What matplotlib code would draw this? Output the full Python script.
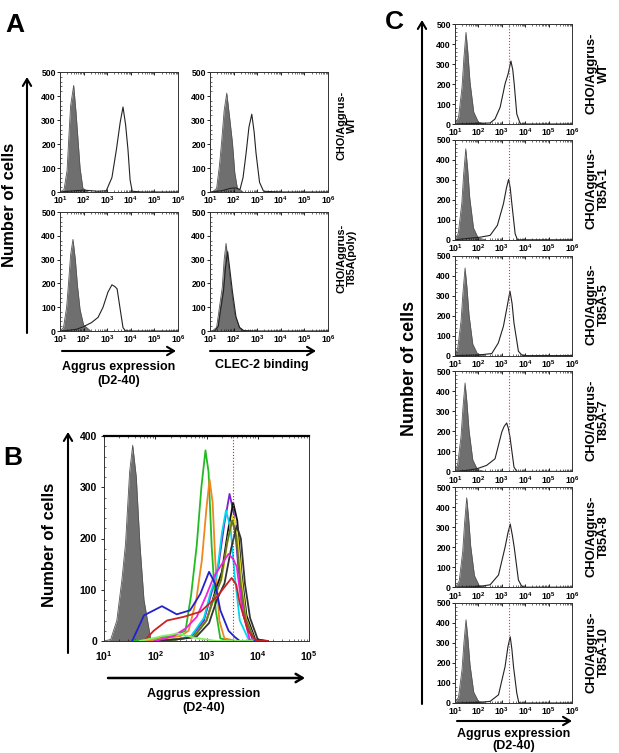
import numpy as np
import matplotlib
matplotlib.use('Agg')
from matplotlib import pyplot as plt
from matplotlib.ticker import MultipleLocator, LogLocator, NullFormatter

plt.rcParams['font.family'] = ['Liberation Sans', 'DejaVu Sans']
plt.rcParams['font.weight'] = 'bold'
plt.rcParams['mathtext.fontset'] = 'custom'
plt.rcParams['mathtext.bf'] = 'Liberation Sans:bold'
plt.rcParams['mathtext.rm'] = 'Liberation Sans:bold'

W, H = 619, 753

# ---------------- data (x as log10 fluorescence, y as counts) ----------------
# Panel A: rows = WT, T85A(poly); cols = Aggrus (D2-40), CLEC-2 binding
a_gray_x = [
    [1.0, 1.17, 1.3, 1.37, 1.45, 1.58, 1.68, 1.76, 1.85, 1.97, 2.2],
    [1.1, 1.28, 1.4, 1.49, 1.6, 1.71, 1.82, 1.95, 2.05, 2.16, 2.4],
    [1.0, 1.15, 1.28, 1.36, 1.45, 1.55, 1.65, 1.74, 1.85, 2.0, 2.3],
    [1.1, 1.28, 1.4, 1.52, 1.6, 1.68, 1.78, 1.89, 2.05, 2.25, 2.47],
]
a_gray_y = [
    [0, 10, 90, 222, 360, 444, 330, 222, 100, 15, 0],
    [0, 15, 110, 206, 340, 412, 320, 206, 80, 15, 0],
    [0, 15, 100, 200, 320, 385, 300, 190, 90, 25, 0],
    [0, 15, 100, 184, 300, 368, 280, 184, 70, 15, 0],
]
a_open_x = [
    [1.0, 1.6, 2.0, 2.6, 2.96, 3.2, 3.39, 3.55, 3.67, 3.78, 3.88, 3.97, 4.06, 4.5, 6.0],
    [1.0, 1.5, 1.85, 2.1, 2.27, 2.4, 2.53, 2.65, 2.77, 2.87, 2.95, 3.1, 3.27, 4.0, 6.0],
    [1.0, 1.3, 1.69, 1.97, 2.33, 2.61, 2.82, 3.03, 3.2, 3.32, 3.42, 3.56, 3.67, 3.78, 6.0],
    [1.0, 1.2, 1.35, 1.45, 1.57, 1.66, 1.75, 1.85, 1.95, 2.1, 2.25, 2.41, 3.0, 4.0, 6.0],
]
a_open_y = [
    [0, 5, 8, 3, 5, 60, 177, 290, 354, 280, 177, 50, 3, 0, 0],
    [0, 5, 15, 17, 10, 60, 162, 270, 324, 250, 162, 40, 3, 0, 0],
    [0, 2, 7, 17, 35, 57, 99, 163, 194, 187, 177, 85, 14, 0, 0],
    [0, 0, 20, 90, 166, 270, 333, 250, 166, 60, 15, 2, 0, 0, 0],
]
a_labels = ['CHO/Aggrus-\nWT', 'CHO/Aggrus-\nT85A(poly)']
a_xlabels = ['Aggrus expression\n(D2-40)', 'CLEC-2 binding']

# Panel B: overlay of clones
b_gray_x = [1.0, 1.13, 1.25, 1.35, 1.42, 1.5, 1.56, 1.63, 1.7, 1.78, 1.91, 2.0]
b_gray_y = [0, 3, 40, 120, 190, 330, 382, 320, 190, 80, 5, 0]
b_colors = ['#22bb22', '#ee8820', '#7a22cc', '#111111', '#00d8ee', '#e8e020',
            '#667722', '#333333', '#ee22dd', '#2222cc', '#cc2222', '#88ee66']
b_lines_x = [
    [1.6, 2.0, 2.4, 2.59, 2.7, 2.81, 2.9, 2.98, 3.04, 3.1, 3.18, 3.27, 3.5],
    [1.8, 2.2, 2.5, 2.65, 2.8, 2.91, 3.0, 3.06, 3.12, 3.17, 3.25, 3.35, 3.6],
    [2.0, 2.4, 2.7, 2.95, 3.1, 3.23, 3.35, 3.45, 3.53, 3.62, 3.72, 3.9, 4.1],
    [2.0, 2.4, 2.75, 3.0, 3.15, 3.3, 3.42, 3.52, 3.6, 3.68, 3.78, 3.95, 4.15],
    [2.0, 2.4, 2.7, 2.95, 3.08, 3.2, 3.3, 3.38, 3.47, 3.55, 3.65, 3.82, 4.0],
    [2.0, 2.4, 2.75, 3.0, 3.15, 3.3, 3.42, 3.52, 3.6, 3.68, 3.77, 3.93, 4.1],
    [2.0, 2.4, 2.75, 3.0, 3.15, 3.28, 3.4, 3.5, 3.58, 3.66, 3.76, 3.93, 4.1],
    [2.0, 2.4, 2.8, 3.05, 3.2, 3.35, 3.48, 3.59, 3.67, 3.75, 3.85, 4.0, 4.2],
    [2.0, 2.36, 2.6, 2.81, 3.0, 3.14, 3.3, 3.43, 3.52, 3.59, 3.7, 3.85, 4.0],
    [1.55, 1.78, 2.13, 2.42, 2.68, 2.88, 3.05, 3.17, 3.27, 3.43, 3.55, 3.65, 4.0],
    [1.78, 1.97, 2.23, 2.55, 2.88, 3.2, 3.35, 3.49, 3.58, 3.65, 3.81, 3.98, 4.2],
    [1.7, 1.95, 2.15, 2.3, 2.42, 2.55, 2.7, 2.85, 3.0, 3.2, 3.4, 3.6, 3.9],
]
b_lines_y = [
    [0, 5, 12, 20, 90, 187, 300, 372, 330, 187, 60, 5, 0],
    [0, 5, 10, 20, 80, 158, 260, 315, 270, 158, 40, 5, 0],
    [0, 3, 8, 40, 95, 145, 230, 287, 250, 145, 50, 3, 0],
    [0, 3, 8, 40, 90, 135, 215, 270, 235, 135, 50, 3, 0],
    [0, 3, 10, 45, 95, 128, 210, 255, 220, 128, 40, 3, 0],
    [0, 3, 8, 40, 85, 122, 200, 245, 210, 122, 45, 3, 0],
    [0, 3, 8, 40, 85, 118, 190, 235, 205, 118, 45, 3, 0],
    [0, 3, 8, 35, 80, 112, 180, 225, 200, 112, 45, 3, 0],
    [0, 10, 25, 47, 90, 125, 150, 170, 160, 145, 60, 0, 0],
    [0, 50, 68, 52, 60, 92, 135, 112, 60, 20, 8, 0, 0],
    [0, 20, 40, 47, 57, 86, 105, 123, 110, 73, 20, 0, 0],
    [0, 5, 10, 12, 15, 12, 8, 5, 3, 0, 0, 0, 0],
]
b_cutoff = 3.52

# Panel C: six clones, same layout
c_labels = ['CHO/Aggrus-\nWT', 'CHO/Aggrus-\nT85A-1', 'CHO/Aggrus-\nT85A-5',
            'CHO/Aggrus-\nT85A-7', 'CHO/Aggrus-\nT85A-8', 'CHO/Aggrus-\nT85A-10']
c_gray_peak = [(1.47, 458), (1.46, 455), (1.43, 438), (1.43, 442), (1.5, 447), (1.47, 416)]
c_gray_x = [-0.47, -0.32, -0.17, -0.09, 0.0, 0.08, 0.17, 0.33, 0.53, 0.83]
c_gray_frac = [0.0, 0.07, 0.4, 0.72, 1.0, 0.78, 0.46, 0.13, 0.02, 0.0]
c_open_x = [
    [1.0, 2.0, 2.5, 2.71, 2.93, 3.14, 3.27, 3.39, 3.47, 3.53, 3.64, 3.79, 6.0],
    [1.0, 1.64, 2.07, 2.5, 2.81, 3.07, 3.2, 3.29, 3.36, 3.43, 3.57, 3.67, 6.0],
    [1.0, 2.0, 2.57, 2.85, 3.07, 3.22, 3.35, 3.44, 3.52, 3.71, 3.85, 4.0, 6.0],
    [1.0, 1.5, 1.93, 2.35, 2.71, 3.0, 3.1, 3.21, 3.28, 3.35, 3.52, 3.64, 6.0],
    [1.0, 2.0, 2.5, 2.86, 3.14, 3.26, 3.36, 3.45, 3.53, 3.71, 3.85, 3.93, 6.0],
    [1.0, 2.0, 2.5, 2.86, 3.14, 3.26, 3.36, 3.43, 3.5, 3.64, 3.72, 3.79, 6.0],
]
c_open_y = [
    [0, 3, 5, 25, 84, 201, 250, 315, 270, 201, 50, 0, 0],
    [0, 8, 13, 22, 72, 180, 260, 302, 260, 180, 30, 0, 0],
    [0, 3, 10, 63, 147, 240, 322, 260, 163, 22, 3, 0, 0],
    [0, 5, 13, 30, 63, 197, 225, 242, 215, 172, 22, 0, 0],
    [0, 3, 12, 61, 200, 270, 316, 260, 200, 36, 5, 0, 0],
    [0, 3, 8, 41, 182, 280, 331, 270, 182, 50, 5, 0, 0],
]
c_cutoff = 3.31

tick_exp6 = [1, 2, 3, 4, 5, 6]
tick_exp5 = [1, 2, 3, 4, 5]

GRAY = '#6f6f6f'

fig = plt.figure(figsize=(W / 100, H / 100), dpi=100)


def px_axes(l, t, r, b):
    return fig.add_axes([l / W, 1 - b / H, (r - l) / W, (b - t) / H])


def arrow(x0, y0, x1, y1, lw=1.5):
    fig.add_artist(matplotlib.patches.FancyArrowPatch(
        (x0 / W, 1 - y0 / H), (x1 / W, 1 - y1 / H), transform=fig.transFigure,
        arrowstyle='->,head_length=5,head_width=3', lw=lw, color='black',
        shrinkA=0, shrinkB=0))


def style_hist(ax, exps, ymax, ystep, fs=6.2, xpad=2):
    ax.set_xscale('log')
    ax.set_xlim(10 ** exps[0], 10 ** exps[-1])
    ax.set_ylim(0, ymax)
    ax.set_xticks([10 ** k for k in exps])
    ax.set_xticklabels([r'$\mathbf{10^{%d}}$' % k for k in exps], fontsize=fs)
    ax.xaxis.set_minor_locator(LogLocator(base=10, subs=np.arange(2, 10), numticks=20))
    ax.xaxis.set_minor_formatter(NullFormatter())
    ax.yaxis.set_major_locator(MultipleLocator(ystep))
    ax.yaxis.set_minor_locator(MultipleLocator(ystep / 5))
    ax.tick_params(axis='both', which='major', labelsize=fs, length=2, width=0.6, pad=1)
    ax.tick_params(axis='both', which='minor', length=1.5, width=0.4, direction='in')
    ax.tick_params(axis='x', which='both', top=True, direction='in')
    ax.tick_params(axis='x', which='major', pad=xpad)
    for lab in ax.get_yticklabels():
        lab.set_fontweight('bold')
    for s in ax.spines.values():
        s.set_linewidth(0.7)
        s.set_color('#333333')


def gray_fill(ax, lx, y):
    x = np.power(10.0, lx)
    ax.fill_between(x, 0, y, color=GRAY, lw=0)
    ax.plot(x, y, color='#555555', lw=0.6)


# ---------------- panel A ----------------
fig.text(5 / W, 1 - 25 / H, 'A', fontsize=19, fontweight='bold', va='center')
a_boxes = [(60, 72, 178, 192), (210, 72, 328, 192), (60, 212, 178, 331), (210, 212, 328, 331)]
for i, (l, t, r, b) in enumerate(a_boxes):
    ax = px_axes(l, t, r, b)
    gray_fill(ax, a_gray_x[i], a_gray_y[i])
    ax.plot(np.power(10.0, a_open_x[i]), a_open_y[i], color='#222222', lw=0.8)
    style_hist(ax, tick_exp6, 500, 100)
for j, lab in enumerate(a_labels):
    fig.text(347 / W, 1 - (125 + 133 * j) / H, lab, rotation=90, ha='center',
             va='center', fontsize=7.8, fontweight='bold', linespacing=1.05)
arrow(27, 333, 27, 77)
fig.text(10 / W, 1 - 205 / H, 'Number of cells', rotation=90, ha='center',
         va='center', fontsize=12, fontweight='bold')
arrow(62, 351, 176, 351)
arrow(210, 351, 316, 351)
fig.text(119 / W, 1 - 374 / H, a_xlabels[0], ha='center', va='center',
         fontsize=9, fontweight='bold', linespacing=1.25)
fig.text(262 / W, 1 - 365 / H, a_xlabels[1], ha='center', va='center',
         fontsize=9, fontweight='bold')

# ---------------- panel B ----------------
fig.text(3 / W, 1 - 458 / H, 'B', fontsize=19, fontweight='bold', va='center')
axb = px_axes(104, 436, 309, 641)
gray_fill(axb, b_gray_x, b_gray_y)
for c, lx, y in zip(b_colors, b_lines_x, b_lines_y):
    axb.plot(np.power(10.0, lx), y, color=c, lw=1.3)
axb.axvline(10 ** b_cutoff, color='#dd2222', lw=0.8, ls=':')
style_hist(axb, tick_exp5, 400, 100, fs=7.5, xpad=6)
axb.spines['top'].set_linewidth(1.6)
axb.spines['top'].set_color('black')
axb.tick_params(axis='y', which='major', pad=3)
arrow(68, 653, 68, 432)
fig.text(50 / W, 1 - 545 / H, 'Number of cells', rotation=90, ha='center',
         va='center', fontsize=12, fontweight='bold')
arrow(108, 678, 305, 678, lw=1.8)
fig.text(204 / W, 1 - 701 / H, 'Aggrus expression\n(D2-40)', ha='center',
         va='center', fontsize=9, fontweight='bold', linespacing=1.3)

# ---------------- panel C ----------------
fig.text(385 / W, 1 - 22 / H, 'C', fontsize=19, fontweight='bold', va='center')
for i in range(6):
    t = 24 + 115.8 * i
    ax = px_axes(455, t, 572, t + 100)
    pk_x, pk_y = c_gray_peak[i]
    gray_fill(ax, np.add(c_gray_x, pk_x), np.multiply(c_gray_frac, pk_y))
    ax.plot(np.power(10.0, c_open_x[i]), c_open_y[i], color='#222222', lw=0.8)
    ax.axvline(10 ** c_cutoff, color='#ee3333', lw=0.8, ls=':')
    style_hist(ax, tick_exp6, 500, 100)
    fig.text(598 / W, 1 - (t + 49) / H, c_labels[i], rotation=90, ha='center',
             va='center', fontsize=9.3, fontweight='bold', linespacing=1.05)
arrow(422, 704, 422, 20)
fig.text(409 / W, 1 - 368 / H, 'Number of cells', rotation=90, ha='center',
         va='center', fontsize=13, fontweight='bold')
arrow(457, 721, 572, 721)
fig.text(514 / W, 1 - 740 / H, 'Aggrus expression\n(D2-40)', ha='center',
         va='center', fontsize=9, fontweight='bold', linespacing=1.1)

fig.savefig('out.png', dpi=100)
